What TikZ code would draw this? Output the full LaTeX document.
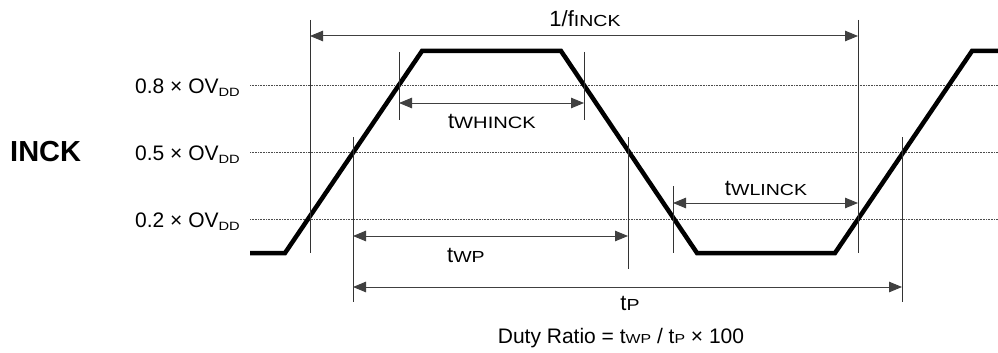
\documentclass[tikz,border=0pt]{standalone}
\usepackage{fontspec}
\setmainfont{Liberation Sans}
\usetikzlibrary{arrows.meta}
\newcommand\lowtxt[2]{{\fontsize{#1}{#1}\selectfont\scalebox{1.22}[1]{#2}}}
\begin{document}
\begin{tikzpicture}[x=1pt,y=-1pt,
  wave/.style={line width=4.5pt, line join=miter},
  tick/.style={line width=1pt, draw=black!80},
  dim/.style={line width=1pt, draw=black!75, {Triangle[length=13pt,width=10.5pt]}-{Triangle[length=13pt,width=10.5pt]}},
  level/.style={line width=0.8pt, draw=black!70, dash pattern=on 1pt off 0.6pt},
  lbl/.style={font=\fontsize{21}{21}\selectfont, anchor=base east, inner sep=0},
  tl/.style={font=\fontsize{22}{22}\selectfont, anchor=base, inner sep=0}]
\useasboundingbox (0,0) rectangle (998,353);
% threshold levels
\coordinate (L8a) at (250,85.5); \coordinate (L8b) at (998,85.5);
\coordinate (L5a) at (250,152.5); \coordinate (L5b) at (998,152.5);
\coordinate (L2a) at (250,219.5); \coordinate (L2b) at (998,219.5);
\draw[level] (L8a) -- (L8b);
\draw[level] (L5a) -- (L5b);
\draw[level] (L2a) -- (L2b);
% level labels
\node[lbl] (v8) at (240,93) {0.8 × OV\raisebox{-3pt}{\lowtxt{12}{DD}}};
\node[lbl] (v5) at (240,160) {0.5 × OV\raisebox{-3pt}{\lowtxt{12}{DD}}};
\node[lbl] (v2) at (240,227) {0.2 × OV\raisebox{-3pt}{\lowtxt{12}{DD}}};
\node[font=\fontsize{29}{29}\selectfont\bfseries, anchor=base west, inner sep=0] (inck) at (10,161.5) {INCK};
% waveform
\draw[wave] (250,253) -- (285,253) -- (422,51) -- (561,51) -- (697,253) -- (835,253) -- (972,51) -- (1005,51);
% vertical ticks
\coordinate (tAt) at (310,20);  \coordinate (tAb) at (310,253);
\coordinate (tBt) at (858,20);  \coordinate (tBb) at (858,253);
\coordinate (tCt) at (399,52);  \coordinate (tCb) at (399,120);
\coordinate (tDt) at (584,52);  \coordinate (tDb) at (584,120);
\coordinate (tEt) at (353,137); \coordinate (tEb) at (353,302);
\coordinate (tFt) at (628,137); \coordinate (tFb) at (628,269);
\coordinate (tGt) at (673,186); \coordinate (tGb) at (673,253);
\coordinate (tHt) at (902,137); \coordinate (tHb) at (902,302);
\foreach \n in {A,B,C,D,E,F,G,H} \draw[tick] (t\n t) -- (t\n b);
% dimension arrows
\coordinate (fA) at (310,36);  \coordinate (fB) at (858,36);
\coordinate (hA) at (399,103); \coordinate (hB) at (584,103);
\coordinate (lA) at (673,203); \coordinate (lB) at (858,203);
\coordinate (wA) at (353,236); \coordinate (wB) at (628,236);
\coordinate (pA) at (353,287); \coordinate (pB) at (902,287);
\draw[dim] (fA) -- (fB);
\draw[dim] (hA) -- (hB);
\draw[dim] (lA) -- (lB);
\draw[dim] (wA) -- (wB);
\draw[dim] (pA) -- (pB);
% labels
\node[tl] (lf) at (585,27) {1/f\lowtxt{16}{INCK}};
\node[tl] (lwh) at (492,128) {t\lowtxt{16.5}{WHINCK}};
\node[tl] (lwl) at (766,195) {t\lowtxt{16}{WLINCK}};
\node[tl, anchor=base west] (lwp) at (447,262) {t\lowtxt{16}{WP}};
\node[tl] (ltp) at (630,310) {t\lowtxt{16}{P}};
\node[font=\fontsize{21}{21}\selectfont, anchor=base, inner sep=0] (duty) at (621,343) {Duty Ratio = t\lowtxt{13}{WP} / t\lowtxt{13}{P} × 100};
\end{tikzpicture}
\end{document}
